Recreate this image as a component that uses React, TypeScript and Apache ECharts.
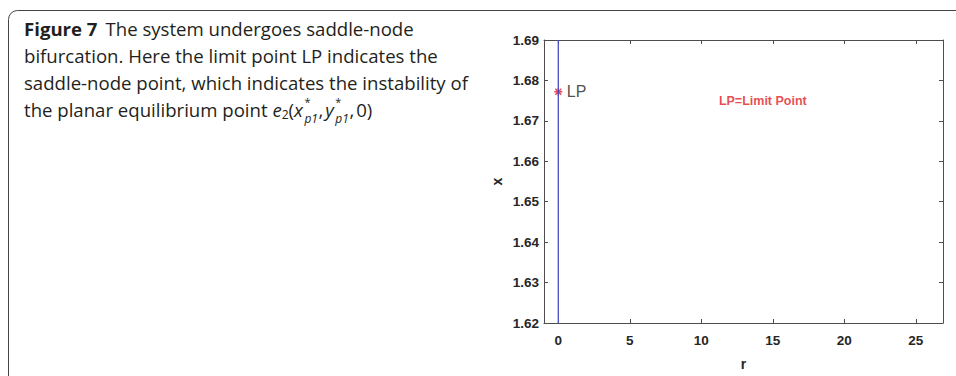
import React, { useEffect, useRef } from "react";
import * as echarts from "echarts";

const xTickValues = [0, 5, 10, 15, 20, 25];
const yTickValues = [1.62, 1.63, 1.64, 1.65, 1.66, 1.67, 1.68, 1.69];
const branchR = [0, 0];
const branchX = [1.62, 1.69];
const lpPoint = [0, 1.6772];
const lpNoteAt = [14.3, 1.6749];
const captionLines = [
  "The system undergoes saddle-node",
  "bifurcation. Here the limit point LP indicates the",
  "saddle-node point, which indicates the instability of",
  "the planar equilibrium point ",
];

const CAP_FONT = '"Open Sans", sans-serif';
const CAP_SIZE = 18.6;
const CAP_COLOR = "#231f20";

function measure(text: string, font: string): number {
  const c = document.createElement("canvas");
  const ctx = c.getContext("2d");
  if (!ctx) return text.length * 8;
  ctx.font = font;
  return ctx.measureText(text).width;
}

export default function App() {
  const ref = useRef<HTMLDivElement>(null);
  useEffect(() => {
    document.body.style.margin = "0";
    if (!ref.current) return;
    const chart = echarts.init(ref.current, null, { renderer: "svg" });

    const X0 = 24;
    const lineY = [28, 55, 82, 109];
    const graphics: any[] = [];
    graphics.push({
      type: "rect",
      shape: { x: 8.5, y: 10.5, width: 1000, height: 400, r: [9, 0, 0, 0] },
      style: { fill: "none", stroke: "#444", lineWidth: 1 },
      silent: true,
    });
    const boldTxt = "Figure 7";
    const boldW = measure(boldTxt, `bold ${CAP_SIZE}px "Open Sans"`);
    graphics.push({
      type: "text",
      x: X0,
      y: lineY[0],
      style: { text: boldTxt, font: `bold ${CAP_SIZE}px ${CAP_FONT}`, fill: CAP_COLOR, verticalAlign: "middle" },
    });
    graphics.push({
      type: "text",
      x: X0 + boldW + 8,
      y: lineY[0],
      style: { text: captionLines[0], font: `${CAP_SIZE}px ${CAP_FONT}`, fill: CAP_COLOR, verticalAlign: "middle" },
    });
    for (let i = 1; i < 4; i++) {
      graphics.push({
        type: "text",
        x: X0,
        y: lineY[i],
        style: { text: captionLines[i], font: `${CAP_SIZE}px ${CAP_FONT}`, fill: CAP_COLOR, verticalAlign: "middle" },
      });
    }
    const normF = `${CAP_SIZE}px "Open Sans"`;
    const itF = `italic ${CAP_SIZE}px "Open Sans"`;
    const smallSize = 12;
    const smallF = `${smallSize}px "Open Sans"`;
    const smallItF = `italic ${smallSize}px "Open Sans"`;
    let cx = X0 + measure(captionLines[3], normF);
    const y4 = lineY[3];
    const put = (text: string, font: string, size: number, dy: number, italic: boolean) => {
      graphics.push({
        type: "text",
        x: cx,
        y: y4 + dy,
        style: {
          text,
          font: `${italic ? "italic " : ""}${size}px ${CAP_FONT}`,
          fill: CAP_COLOR,
          verticalAlign: "middle",
        },
      });
      return measure(text, font);
    };
    const stack = () => {
      const w = Math.max(measure("*", `11px "Open Sans"`), measure("p1", smallItF));
      graphics.push({
        type: "text",
        x: cx + 1.5,
        y: y4 + 1,
        style: {
          text: "{s|*}\n{p|p1}",
          verticalAlign: "middle",
          rich: {
            s: { fontFamily: CAP_FONT, fontSize: 11, lineHeight: 16.5, fill: CAP_COLOR, color: CAP_COLOR },
            p: { fontFamily: CAP_FONT, fontStyle: "italic", fontSize: smallSize, lineHeight: 16.5, fill: CAP_COLOR, color: CAP_COLOR },
          },
        },
      });
      return w + 2;
    };
    cx += put("e", itF, CAP_SIZE, 0, true);
    cx += put("2", smallF, smallSize, 5, false);
    cx += put("(", normF, CAP_SIZE, 0, false);
    cx += put("x", itF, CAP_SIZE, 0, true);
    cx += stack();
    cx += put(",", normF, CAP_SIZE, 0, false) + 2;
    cx += put("y", itF, CAP_SIZE, 0, true);
    cx += stack();
    cx += put(",", normF, CAP_SIZE, 0, false) + 2;
    cx += put("0)", normF, CAP_SIZE, 0, false);

    const axisFont = {
      fontFamily: '"Liberation Sans", Arial, sans-serif',
      fontWeight: "bold" as const,
      fontSize: 13.5,
      color: "#262626",
    };
    const axisLine = { show: true, onZero: false, lineStyle: { color: "#4d4d4d", width: 1 } };
    const tick = (vals: number[]) => ({
      show: true,
      inside: true,
      length: 4,
      customValues: vals,
      lineStyle: { color: "#4d4d4d" },
    });

    chart.setOption({
      animation: false,
      graphic: graphics,
      grid: { left: 544, top: 40, width: 399, height: 292, containLabel: false },
      xAxis: [
        {
          type: "value",
          min: -1,
          max: 26.9,
          position: "bottom",
          name: "r",
          nameLocation: "middle",
          nameGap: 34,
          nameTextStyle: { ...axisFont, fontSize: 14 },
          axisLine,
          axisTick: tick(xTickValues),
          axisLabel: { ...axisFont, margin: 10, customValues: xTickValues, formatter: (v: number) => String(v) },
          splitLine: { show: false },
        },
        {
          type: "value",
          min: -1,
          max: 26.9,
          position: "top",
          axisLine,
          axisTick: tick(xTickValues),
          axisLabel: { show: false },
          splitLine: { show: false },
        },
      ],
      yAxis: [
        {
          type: "value",
          min: 1.62,
          max: 1.69,
          position: "left",
          name: "x",
          nameLocation: "middle",
          nameRotate: 90,
          nameGap: 40,
          nameTextStyle: { ...axisFont, fontSize: 14 },
          axisLine,
          axisTick: tick(yTickValues),
          axisLabel: { ...axisFont, margin: 5, customValues: yTickValues, formatter: (v: number) => v.toFixed(2) },
          splitLine: { show: false },
        },
        {
          type: "value",
          min: 1.62,
          max: 1.69,
          position: "right",
          axisLine,
          axisTick: tick(yTickValues),
          axisLabel: { show: false },
          splitLine: { show: false },
        },
      ],
      series: [
        {
          type: "line",
          data: branchR.map((r, i) => [r, branchX[i]]),
          symbol: "none",
          lineStyle: { color: "#4a4ac8", width: 1.3 },
          silent: true,
        },
        {
          type: "scatter",
          data: [lpPoint],
          symbol: "path://M0,-4L0,4M-4,0L4,0M-3,-3L3,3M-3,3L3,-3",
          symbolSize: 8,
          itemStyle: { color: "none", borderColor: "#e01b24", borderWidth: 1.4 },
          label: {
            show: true,
            position: "right",
            distance: 2,
            formatter: "LP",
            fontFamily: '"Liberation Sans", Arial, sans-serif',
            fontSize: 16,
            color: "#222",
          },
          silent: true,
        },
        {
          type: "scatter",
          data: [lpNoteAt],
          symbolSize: 0,
          label: {
            show: true,
            position: "inside",
            formatter: "LP=Limit Point",
            fontFamily: '"Liberation Sans", Arial, sans-serif',
            fontWeight: "bold",
            fontSize: 12.5,
            color: "#e01b24",
          },
          silent: true,
        },
      ],
    });
    return () => chart.dispose();
  }, []);
  return <div ref={ref} style={{ position: "absolute", left: 0, top: 0, width: 956, height: 376 }} />;
}
